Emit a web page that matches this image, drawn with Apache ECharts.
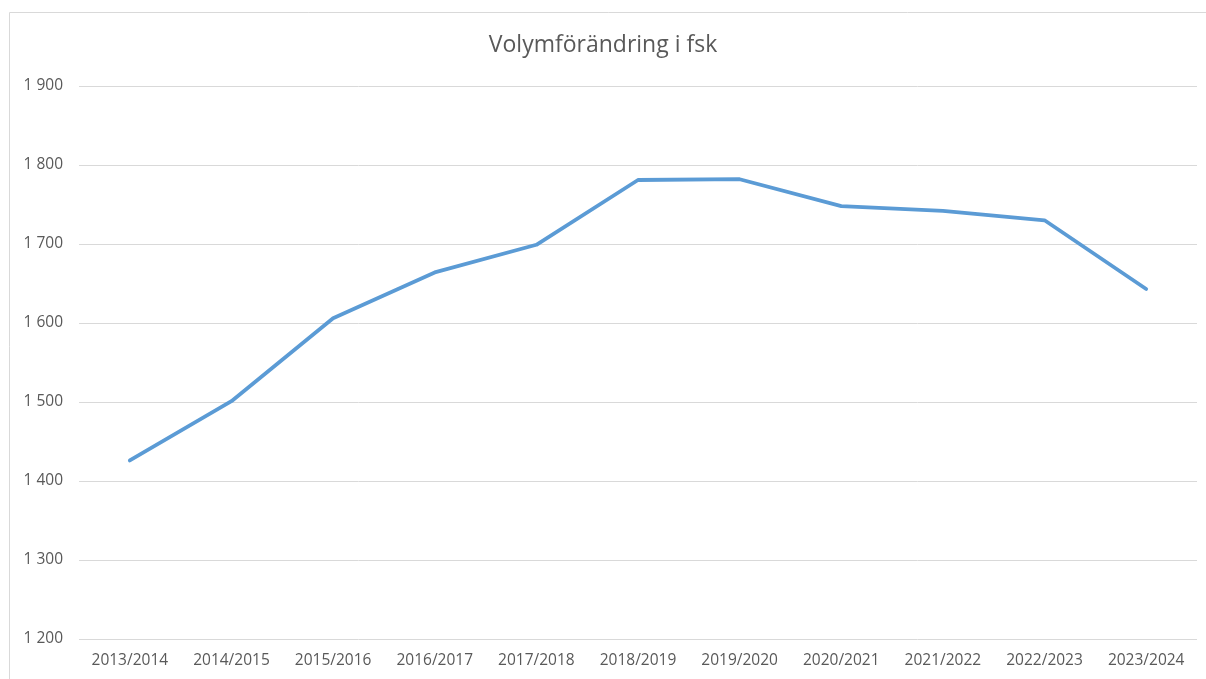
<!DOCTYPE html>
<html lang="sv">
<head>
    <meta charset="UTF-8">
    <title>Volymförändring i fsk</title>
    <style>
        html, body { margin: 0; padding: 0; background: #fff; }
        #chart { width: 1206px; height: 679px; }
    </style>
</head>
<body>
    <div id="chart"></div>
    <script src="https://cdn.jsdelivr.net/npm/echarts@6/dist/echarts.min.js"></script>
    <script>
        // läsår och volym
        var years = ['2013/2014', '2014/2015', '2015/2016', '2016/2017', '2017/2018', '2018/2019',
                     '2019/2020', '2020/2021', '2021/2022', '2022/2023', '2023/2024'];
        var volym = [1426, 1501, 1606, 1664, 1699, 1781, 1782, 1748, 1742, 1730, 1643];
        var yMin = 1200, yMax = 1900, yStep = 100;

        var myChart = echarts.init(document.getElementById('chart'));
        var textColor = '#595959';
        var font = 'Open Sans';

        var option = {
            animation: false,
            title: {
                text: 'Volymförändring i fsk',
                left: 'center',
                top: 29,
                textStyle: { fontFamily: font, fontSize: 23, fontWeight: 'normal', color: textColor }
            },
            graphic: [{
                type: 'rect',
                shape: { x: 9.5, y: 12.5, width: 1200, height: 700 },
                style: { fill: 'none', stroke: '#d9d9d9', lineWidth: 1 },
                silent: true
            }],
            grid: { left: 79, right: 9, top: 86, bottom: 40 },
            xAxis: {
                type: 'category',
                data: years,
                boundaryGap: true,
                axisLine: { show: false },
                axisTick: { show: false },
                axisLabel: { color: textColor, fontFamily: font, fontSize: 15.5, margin: 14 }
            },
            yAxis: {
                type: 'value',
                min: yMin,
                max: yMax,
                interval: yStep,
                axisLine: { show: false },
                axisTick: { show: false },
                splitLine: { lineStyle: { color: '#d9d9d9', width: 1 } },
                axisLabel: {
                    color: textColor, fontFamily: font, fontSize: 15.5, margin: 16,
                    formatter: function (v) {
                        return String(v).replace(/\B(?=(\d{3})+(?!\d))/g, ' ');
                    }
                }
            },
            series: [{
                type: 'line',
                data: volym,
                symbol: 'none',
                lineStyle: { color: '#5b9bd5', width: 3.8, cap: 'round', join: 'round' }
            }]
        };
        myChart.setOption(option);
    </script>
</body>
</html>
